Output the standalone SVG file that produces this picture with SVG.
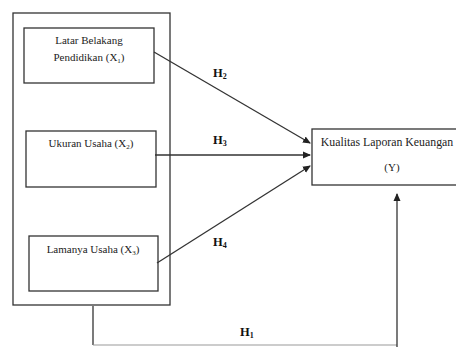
<svg xmlns="http://www.w3.org/2000/svg" width="456" height="347" viewBox="0 0 456 347">
<style>
.box{fill:#fff;stroke:#333;stroke-width:1.3}
.t{font-family:"Liberation Serif",serif;font-size:11px;fill:#222;text-anchor:middle}
.h{font-family:"Liberation Serif",serif;font-size:12.5px;font-weight:bold;fill:#111}
.c{fill:none;stroke:#333;stroke-width:1.3}
</style>
<defs>
<marker id="ah" markerWidth="8" markerHeight="8" refX="7" refY="4" orient="auto" markerUnits="userSpaceOnUse">
<path d="M0,0.5 L8,4 L0,7.5 Z" fill="#222"/>
</marker>
</defs>
<rect x="0" y="0" width="456" height="347" fill="#fff"/>
<g id="group-x">
<rect class="box" x="13" y="13" width="157" height="292"/>
</g>
<g id="x1">
<rect class="box" x="24" y="28" width="130" height="55"/>
<text class="t" x="89" y="44">Latar Belakang</text>
<text class="t" x="89" y="61">Pendidikan (X<tspan font-size="7" dy="2">1</tspan><tspan dy="-2">)</tspan></text>
</g>
<g id="x2">
<rect class="box" x="26" y="131" width="130" height="56"/>
<text class="t" x="91" y="147">Ukuran Usaha (X<tspan font-size="7" dy="2">2</tspan><tspan dy="-2">)</tspan></text>
</g>
<g id="x3">
<rect class="box" x="29" y="236" width="129" height="55"/>
<text class="t" x="93" y="253">Lamanya Usaha (X<tspan font-size="7" dy="2">3</tspan><tspan dy="-2">)</tspan></text>
</g>
<g id="y">
<rect class="box" x="312" y="129" width="150" height="56"/>
<text class="t" x="387" y="146" style="font-size:11.8px">Kualitas Laporan Keuangan</text>
<text class="t" x="392" y="171">(Y)</text>
</g>
<g id="connectors">
<line class="c" x1="154" y1="52" x2="310" y2="143" marker-end="url(#ah)"/>
<line class="c" x1="155" y1="155" x2="310" y2="155" marker-end="url(#ah)"/>
<line class="c" x1="157" y1="263" x2="310" y2="166" marker-end="url(#ah)"/>
<line class="c" x1="93" y1="306" x2="93" y2="345"/>
<line class="c" x1="93" y1="345" x2="397" y2="345" style="stroke:#999;stroke-width:1"/>
<line class="c" x1="397" y1="347" x2="397" y2="194" marker-end="url(#ah)"/>
</g>
<g id="labels">
<text class="h" x="213" y="77">H<tspan font-size="8" dy="2">2</tspan></text>
<text class="h" x="213" y="144">H<tspan font-size="8" dy="2">3</tspan></text>
<text class="h" x="213" y="246">H<tspan font-size="8" dy="2">4</tspan></text>
<text class="h" x="240" y="336">H<tspan font-size="8" dy="2">1</tspan></text>
</g>
</svg>
